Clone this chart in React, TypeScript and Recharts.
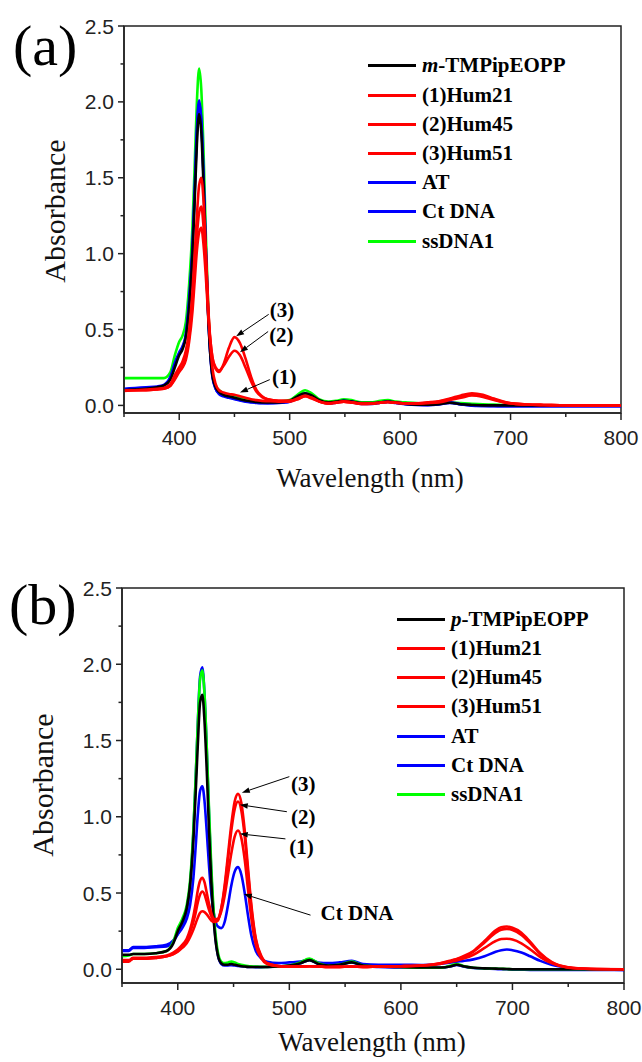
import React from 'react';
import { LineChart, Line, XAxis, YAxis, ReferenceArea, ReferenceLine, ReferenceDot } from 'recharts';

const SERIF = '"Liberation Serif", "Times New Roman", Times, "Nimbus Roman", "DejaVu Serif", serif';
const SANS = '"Liberation Sans", Arial, Helvetica, sans-serif';
const AXIS = '#222';

const X_TICKS = [350, 400, 450, 500, 550, 600, 650, 700, 750, 800];
const Y_TICKS = [0, 0.25, 0.5, 0.75, 1, 1.25, 1.5, 1.75, 2, 2.25, 2.5];

// ---------- panel (a): m-TMPipEOPP ----------
const A_WL = [
  350, 360, 370, 380, 386, 392, 396, 400,
  403, 406, 409, 412, 414, 416, 418, 420,
  422, 424, 426, 428, 430, 433, 436, 440,
  445, 450, 455, 460, 465, 470, 475, 480,
  490, 500, 507, 514, 520, 527, 535, 542,
  549, 556, 565, 575, 582, 589, 596, 605,
  615, 625, 635, 645, 655, 665, 675, 685,
  695, 705, 715, 730, 745, 760, 780, 800,
];
const A_FREE = [
  0.10, 0.105, 0.11, 0.12, 0.13, 0.17, 0.25, 0.33,
  0.37, 0.45, 0.65, 1.00, 1.35, 1.72, 1.92, 1.80,
  1.45, 1.00, 0.62, 0.35, 0.20, 0.12, 0.09, 0.07,
  0.06, 0.05, 0.04, 0.032, 0.027, 0.022, 0.02, 0.02,
  0.02, 0.03, 0.06, 0.08, 0.065, 0.035, 0.02, 0.025,
  0.03, 0.025, 0.015, 0.015, 0.02, 0.025, 0.02, 0.01,
  0.005, 0.004, 0.008, 0.018, 0.008, 0.003, 0, 0,
  0, 0, 0, 0, 0, 0, 0, 0,
];
const A_HUM21 = [
  0.10, 0.10, 0.105, 0.11, 0.115, 0.14, 0.20, 0.25,
  0.29, 0.36, 0.50, 0.75, 1.00, 1.25, 1.45, 1.50,
  1.35, 1.05, 0.70, 0.42, 0.25, 0.14, 0.10, 0.085,
  0.075, 0.07, 0.06, 0.05, 0.04, 0.035, 0.03, 0.028,
  0.025, 0.025, 0.04, 0.06, 0.05, 0.025, 0.015, 0.02,
  0.025, 0.02, 0.012, 0.012, 0.018, 0.022, 0.018, 0.012,
  0.012, 0.015, 0.02, 0.035, 0.05, 0.065, 0.055, 0.035,
  0.018, 0.01, 0.006, 0.003, 0.001, 0, 0, 0,
];
const A_HUM45 = [
  0.095, 0.10, 0.10, 0.105, 0.11, 0.13, 0.18, 0.23,
  0.26, 0.32, 0.45, 0.68, 0.90, 1.12, 1.27, 1.31,
  1.18, 0.95, 0.66, 0.45, 0.32, 0.25, 0.23, 0.26,
  0.32, 0.36, 0.33, 0.25, 0.16, 0.09, 0.055, 0.04,
  0.03, 0.03, 0.04, 0.06, 0.045, 0.025, 0.012, 0.018,
  0.025, 0.02, 0.01, 0.012, 0.018, 0.022, 0.018, 0.013,
  0.013, 0.018, 0.025, 0.04, 0.06, 0.072, 0.062, 0.04,
  0.02, 0.01, 0.006, 0.003, 0.001, 0, 0, 0,
];
const A_HUM51 = [
  0.10, 0.10, 0.10, 0.105, 0.11, 0.13, 0.17, 0.22,
  0.25, 0.30, 0.42, 0.62, 0.82, 1.02, 1.14, 1.17,
  1.06, 0.86, 0.62, 0.44, 0.32, 0.24, 0.22, 0.27,
  0.38, 0.45, 0.41, 0.31, 0.19, 0.10, 0.06, 0.04,
  0.03, 0.03, 0.045, 0.065, 0.05, 0.025, 0.012, 0.018,
  0.025, 0.02, 0.01, 0.012, 0.018, 0.022, 0.018, 0.013,
  0.014, 0.02, 0.028, 0.045, 0.066, 0.08, 0.07, 0.045,
  0.022, 0.01, 0.006, 0.003, 0.001, 0, 0, 0,
];
const A_AT = [
  0.11, 0.115, 0.12, 0.125, 0.135, 0.19, 0.28, 0.35,
  0.39, 0.47, 0.70, 1.05, 1.42, 1.82, 2.01, 1.88,
  1.52, 1.05, 0.65, 0.36, 0.20, 0.11, 0.08, 0.065,
  0.055, 0.045, 0.035, 0.028, 0.022, 0.018, 0.016, 0.015,
  0.018, 0.025, 0.055, 0.08, 0.06, 0.03, 0.015, 0.02,
  0.03, 0.025, 0.012, 0.012, 0.02, 0.025, 0.018, 0.01,
  0.005, 0.003, 0.008, 0.02, 0.008, 0, -0.003, -0.004,
  -0.005, -0.005, -0.005, -0.005, -0.005, -0.005, -0.005, -0.005,
];
const A_CTDNA = [
  0.105, 0.11, 0.115, 0.12, 0.13, 0.18, 0.27, 0.34,
  0.38, 0.46, 0.68, 1.03, 1.40, 1.80, 1.99, 1.87,
  1.50, 1.04, 0.64, 0.35, 0.19, 0.11, 0.075, 0.06,
  0.05, 0.04, 0.032, 0.025, 0.02, 0.016, 0.015, 0.014,
  0.016, 0.024, 0.052, 0.075, 0.058, 0.028, 0.014, 0.018,
  0.028, 0.022, 0.01, 0.01, 0.018, 0.022, 0.016, 0.008,
  0.003, 0.002, 0.006, 0.016, 0.006, -0.002, -0.004, -0.005,
  -0.006, -0.006, -0.006, -0.006, -0.006, -0.006, -0.006, -0.006,
];
const A_SSDNA = [
  0.18, 0.18, 0.18, 0.18, 0.18, 0.22, 0.33, 0.42,
  0.46, 0.55, 0.80, 1.18, 1.58, 2.00, 2.22, 2.08,
  1.68, 1.15, 0.70, 0.38, 0.22, 0.13, 0.10, 0.08,
  0.07, 0.065, 0.055, 0.045, 0.035, 0.03, 0.025, 0.025,
  0.025, 0.035, 0.07, 0.10, 0.08, 0.04, 0.025, 0.03,
  0.04, 0.035, 0.02, 0.02, 0.03, 0.035, 0.025, 0.02,
  0.015, 0.012, 0.015, 0.02, 0.015, 0.01, 0.008, 0.005,
  0.003, 0, 0, 0, 0, 0, 0, 0,
];

// ---------- panel (b): p-TMPipEOPP ----------
const B_WL = [
  350, 356, 360, 370, 380, 390, 396, 400,
  404, 408, 411, 414, 416, 418, 420, 422,
  424, 426, 428, 430, 433, 436, 439, 442,
  445, 448, 451, 454, 457, 460, 463, 466,
  470, 475, 480, 490, 500, 510, 518, 526,
  535, 545, 556, 566, 580, 600, 620, 635,
  645, 650, 656, 665, 675, 685, 690, 695,
  700, 708, 716, 725, 735, 750, 770, 800,
];
const B_FREE = [
  0.095, 0.095, 0.10, 0.10, 0.105, 0.12, 0.17, 0.25,
  0.31, 0.40, 0.55, 0.85, 1.15, 1.48, 1.75, 1.80,
  1.62, 1.30, 0.92, 0.58, 0.25, 0.09, 0.04, 0.03,
  0.03, 0.035, 0.03, 0.025, 0.02, 0.018, 0.016, 0.015,
  0.015, 0.015, 0.015, 0.018, 0.025, 0.04, 0.06, 0.035,
  0.025, 0.03, 0.045, 0.025, 0.018, 0.015, 0.012, 0.012,
  0.02, 0.03, 0.02, 0.01, 0.006, 0.004, 0.003, 0.002,
  0, 0, 0, 0, 0, 0, 0, 0,
];
const B_HUM21 = [
  0.06, 0.06, 0.075, 0.075, 0.08, 0.09, 0.11, 0.13,
  0.16, 0.20, 0.26, 0.35, 0.43, 0.52, 0.58, 0.60,
  0.57, 0.50, 0.43, 0.37, 0.33, 0.33, 0.38, 0.48,
  0.62, 0.76, 0.87, 0.91, 0.86, 0.72, 0.52, 0.33,
  0.16, 0.07, 0.035, 0.02, 0.018, 0.018, 0.02, 0.018,
  0.015, 0.016, 0.018, 0.016, 0.018, 0.02, 0.025, 0.035,
  0.05, 0.058, 0.07, 0.095, 0.14, 0.185, 0.198, 0.20,
  0.195, 0.17, 0.13, 0.08, 0.04, 0.01, 0.002, 0,
];
const B_HUM45 = [
  0.05, 0.05, 0.07, 0.07, 0.075, 0.085, 0.10, 0.12,
  0.15, 0.19, 0.24, 0.31, 0.37, 0.44, 0.49, 0.51,
  0.49, 0.44, 0.39, 0.35, 0.32, 0.33, 0.40, 0.53,
  0.72, 0.91, 1.05, 1.10, 1.04, 0.87, 0.63, 0.40,
  0.19, 0.08, 0.04, 0.022, 0.018, 0.018, 0.02, 0.018,
  0.015, 0.016, 0.018, 0.016, 0.018, 0.02, 0.025, 0.038,
  0.055, 0.065, 0.08, 0.115, 0.175, 0.24, 0.26, 0.265,
  0.258, 0.225, 0.17, 0.10, 0.045, 0.012, 0.002, 0,
];
const B_HUM51 = [
  0.055, 0.055, 0.07, 0.07, 0.075, 0.085, 0.10, 0.115,
  0.14, 0.17, 0.21, 0.26, 0.30, 0.34, 0.37, 0.38,
  0.375, 0.36, 0.34, 0.32, 0.31, 0.32, 0.40, 0.55,
  0.75, 0.95, 1.10, 1.15, 1.09, 0.91, 0.66, 0.42,
  0.20, 0.085, 0.04, 0.022, 0.018, 0.018, 0.02, 0.018,
  0.015, 0.016, 0.018, 0.016, 0.018, 0.02, 0.026, 0.04,
  0.058, 0.068, 0.085, 0.12, 0.185, 0.255, 0.275, 0.28,
  0.272, 0.24, 0.18, 0.105, 0.048, 0.013, 0.003, 0,
];
const B_AT = [
  0.12, 0.12, 0.14, 0.14, 0.145, 0.15, 0.18, 0.23,
  0.29, 0.38, 0.55, 0.90, 1.24, 1.62, 1.92, 1.98,
  1.80, 1.44, 1.02, 0.64, 0.27, 0.09, 0.035, 0.025,
  0.025, 0.027, 0.025, 0.022, 0.02, 0.018, 0.016, 0.015,
  0.014, 0.014, 0.015, 0.018, 0.025, 0.04, 0.06, 0.035,
  0.025, 0.03, 0.045, 0.022, 0.015, 0.012, 0.01, 0.01,
  0.02, 0.028, 0.018, 0.008, 0.004, 0.002, 0, 0,
  -0.002, -0.003, -0.004, -0.004, -0.004, -0.004, -0.004, -0.004,
];
const B_CTDNA = [
  0.125, 0.125, 0.145, 0.145, 0.15, 0.16, 0.19, 0.23,
  0.27, 0.33, 0.42, 0.60, 0.80, 1.02, 1.17, 1.20,
  1.10, 0.90, 0.68, 0.50, 0.34, 0.28, 0.27, 0.31,
  0.42, 0.55, 0.64, 0.67, 0.62, 0.50, 0.35, 0.22,
  0.12, 0.07, 0.05, 0.04, 0.045, 0.05, 0.065, 0.045,
  0.04, 0.045, 0.055, 0.035, 0.03, 0.03, 0.028, 0.035,
  0.045, 0.05, 0.055, 0.065, 0.085, 0.115, 0.125, 0.13,
  0.125, 0.11, 0.085, 0.055, 0.03, 0.01, 0, -0.004,
];
const B_SSDNA = [
  0.085, 0.09, 0.10, 0.10, 0.105, 0.12, 0.18, 0.27,
  0.33, 0.42, 0.58, 0.92, 1.25, 1.62, 1.90, 1.96,
  1.80, 1.45, 1.05, 0.68, 0.30, 0.11, 0.05, 0.04,
  0.045, 0.05, 0.045, 0.035, 0.03, 0.025, 0.022, 0.02,
  0.018, 0.016, 0.016, 0.018, 0.025, 0.045, 0.07, 0.04,
  0.025, 0.03, 0.05, 0.025, 0.018, 0.015, 0.01, 0.01,
  0.025, 0.035, 0.022, 0.01, 0.006, 0.004, 0.003, 0.002,
  0, 0, 0, 0, 0, 0, 0, 0,
];

// annotations: label, text position, arrow start, arrow tip (data units)
const A_NOTES = [
  { text: '(3)', tx: 493, ty: 0.63, x1: 481, y1: 0.60, x2: 451.5, y2: 0.455 },
  { text: '(2)', tx: 492.5, ty: 0.467, x1: 480.5, y1: 0.487, x2: 455, y2: 0.35 },
  { text: '(1)', tx: 495, ty: 0.19, x1: 482, y1: 0.17, x2: 455, y2: 0.085 },
];
const B_NOTES = [
  { text: '(3)', tx: 512.5, ty: 1.217, x1: 500, y1: 1.263, x2: 457.4, y2: 1.158 },
  { text: '(2)', tx: 512.5, ty: 1.0, x1: 497.8, y1: 1.033, x2: 455.6, y2: 1.079 },
  { text: '(1)', tx: 511, ty: 0.80, x1: 496.5, y1: 0.855, x2: 455.6, y2: 0.888 },
  { text: 'Ct DNA', tx: 528, ty: 0.368, x1: 519, y1: 0.355, x2: 459.2, y2: 0.493, anchor: 'start' },
];

type Series = { key: string; pre?: string; name: string; color: string; values: number[] };

const A_SERIES: Series[] = [
  { key: 'free', pre: 'm', name: '-TMPipEOPP', color: '#000000', values: A_FREE },
  { key: 'hum21', name: '(1)Hum21', color: '#ff0000', values: A_HUM21 },
  { key: 'hum45', name: '(2)Hum45', color: '#ff0000', values: A_HUM45 },
  { key: 'hum51', name: '(3)Hum51', color: '#ff0000', values: A_HUM51 },
  { key: 'at', name: 'AT', color: '#0000ff', values: A_AT },
  { key: 'ct', name: 'Ct DNA', color: '#0000ff', values: A_CTDNA },
  { key: 'ss', name: 'ssDNA1', color: '#00ff00', values: A_SSDNA },
];
const B_SERIES: Series[] = [
  { key: 'free', pre: 'p', name: '-TMPipEOPP', color: '#000000', values: B_FREE },
  { key: 'hum21', name: '(1)Hum21', color: '#ff0000', values: B_HUM21 },
  { key: 'hum45', name: '(2)Hum45', color: '#ff0000', values: B_HUM45 },
  { key: 'hum51', name: '(3)Hum51', color: '#ff0000', values: B_HUM51 },
  { key: 'at', name: 'AT', color: '#0000ff', values: B_AT },
  { key: 'ct', name: 'Ct DNA', color: '#0000ff', values: B_CTDNA },
  { key: 'ss', name: 'ssDNA1', color: '#00ff00', values: B_SSDNA },
];

const buildRows = (wl: number[], series: Series[]) =>
  wl.map((w, i) => {
    const row: Record<string, number> = { wl: w };
    series.forEach(s => { row[s.key] = s.values[i]; });
    return row;
  });

const YTick = (props: any) => {
  const { x, y, payload } = props;
  const v = payload.value;
  const major = Math.abs(v * 2 - Math.round(v * 2)) < 1e-6;
  return (
    <g>
      <line x1={x} x2={x - (major ? 6 : 3.5)} y1={y} y2={y} stroke={AXIS} strokeWidth={1.5} />
      {major && (
        <text x={x - 10} y={y + 7.5} textAnchor="end" fontFamily={SANS} fontSize={21} fill={AXIS}>
          {v.toFixed(1)}
        </text>
      )}
    </g>
  );
};

const XTick = (props: any) => {
  const { x, y, payload } = props;
  const major = payload.value % 100 === 0;
  return (
    <g>
      <line x1={x} x2={x} y1={y} y2={y + (major ? 7 : 4)} stroke={AXIS} strokeWidth={1.5} />
      {major && (
        <text x={x} y={y + 32} textAnchor="middle" fontFamily={SANS} fontSize={21} fill={AXIS}>
          {payload.value}
        </text>
      )}
    </g>
  );
};

const Arrow = (props: any) => {
  const { x1, y1, x2, y2 } = props;
  const a = Math.atan2(y2 - y1, x2 - x1);
  const c = Math.cos(a), s = Math.sin(a);
  const bx = x2 - 8 * c, by = y2 - 8 * s;
  const pts = `${x2},${y2} ${bx + 2.8 * s},${by - 2.8 * c} ${bx - 2.8 * s},${by + 2.8 * c}`;
  return (
    <g>
      <line x1={x1} y1={y1} x2={bx} y2={by} stroke="#000" strokeWidth={1} />
      <polygon points={pts} fill="#000" />
    </g>
  );
};

type PanelProps = {
  top: number;
  height: number;
  margin: { top: number; right: number; left: number; bottom: number };
  yMin: number;
  wl: number[];
  series: Series[];
  drawOrder: string[];
  notes: any[];
  tag: string;
  tagPos: { left: number; top: number };
  legendPos: { left: number; top: number };
  yTitle: { dx: number; cy: number };
  xTitle: { cx: number; dy: number };
};

function Panel(p: PanelProps) {
  const data = buildRows(p.wl, p.series);
  const byKey: Record<string, Series> = {};
  p.series.forEach(s => { byKey[s.key] = s; });

  return (
    <div style={{ position: 'absolute', left: 0, top: p.top, width: 642, height: p.height }}>
      <LineChart width={642} height={p.height} data={data} margin={p.margin}>
        <XAxis
          dataKey="wl"
          type="number"
          domain={[350, 800]}
          ticks={X_TICKS}
          allowDataOverflow
          height={30}
          tickSize={0}
          tickMargin={0}
          tickLine={false}
          axisLine={{ stroke: AXIS, strokeWidth: 1.5 }}
          tick={<XTick />}
          label={(lp: any) => {
            const vb = lp.viewBox;
            return (
              <text x={p.xTitle.cx} y={vb.y + p.xTitle.dy} textAnchor="middle" fontFamily={SERIF} fontSize={27} fill="#111">
                Wavelength (nm)
              </text>
            );
          }}
        />
        <YAxis
          type="number"
          domain={[p.yMin, 2.5]}
          ticks={Y_TICKS}
          allowDataOverflow
          width={60}
          tickSize={0}
          tickMargin={0}
          tickLine={false}
          axisLine={{ stroke: AXIS, strokeWidth: 1.5 }}
          tick={<YTick />}
          label={(lp: any) => {
            const vb = lp.viewBox;
            const bx = vb.x + vb.width - p.yTitle.dx;
            return (
              <text
                x={bx}
                y={p.yTitle.cy}
                transform={`rotate(-90, ${bx}, ${p.yTitle.cy})`}
                textAnchor="middle"
                fontFamily={SERIF}
                fontSize={30}
                fill="#111"
              >
                Absorbance
              </text>
            );
          }}
        />
        <ReferenceArea x1={350} x2={800} y1={p.yMin} y2={2.5} fill="none" stroke={AXIS} strokeWidth={1.5} ifOverflow="visible" />
        {p.drawOrder.map(k => (
          <Line
            key={k}
            type="monotone"
            dataKey={k}
            stroke={byKey[k].color}
            strokeWidth={2.6}
            dot={false}
            activeDot={false}
            isAnimationActive={false}
          />
        ))}
        {p.notes.map((n, i) => (
          <ReferenceLine
            key={`arrow-${i}`}
            segment={[{ x: n.x1, y: n.y1 }, { x: n.x2, y: n.y2 }]}
            ifOverflow="visible"
            shape={<Arrow />}
          />
        ))}
        {p.notes.map((n, i) => (
          <ReferenceDot
            key={`note-${i}`}
            x={n.tx}
            y={n.ty}
            r={0}
            ifOverflow="visible"
            shape={(dp: any) => (
              <text
                x={dp.cx}
                y={dp.cy + 7}
                textAnchor={n.anchor || 'middle'}
                fontFamily={SERIF}
                fontWeight="bold"
                fontSize={21}
                fill="#000"
              >
                {n.text}
              </text>
            )}
          />
        ))}
      </LineChart>

      <div
        style={{
          position: 'absolute',
          left: p.tagPos.left,
          top: p.tagPos.top,
          fontFamily: SERIF,
          fontSize: 58,
          lineHeight: '58px',
          color: '#000',
        }}
      >
        {p.tag}
      </div>

      <div style={{ position: 'absolute', left: p.legendPos.left, top: p.legendPos.top }}>
        {p.series.map(s => (
          <div key={s.key} style={{ display: 'flex', alignItems: 'center', height: 29.2 }}>
            <div style={{ width: 48, height: 3, background: s.color, marginRight: 6 }} />
            <div style={{ fontFamily: SERIF, fontWeight: 'bold', fontSize: 21, lineHeight: '29px', color: '#000', whiteSpace: 'nowrap' }}>
              {s.pre && <i>{s.pre}</i>}
              {s.name}
            </div>
          </div>
        ))}
      </div>
    </div>
  );
}

export default function App() {
  return (
    <div style={{ position: 'absolute', left: 0, top: 0, width: 642, height: 1062, background: '#fff' }}>
      <Panel
        top={0}
        height={520}
        margin={{ top: 26, right: 21, left: 64, bottom: 77 }}
        yMin={-0.05}
        wl={A_WL}
        series={A_SERIES}
        drawOrder={['ss', 'ct', 'at', 'free', 'hum21', 'hum45', 'hum51']}
        notes={A_NOTES}
        tag="(a)"
        tagPos={{ left: 13, top: 17 }}
        legendPos={{ left: 368, top: 51.4 }}
        yTitle={{ dx: 59, cy: 211 }}
        xTitle={{ cx: 370, dy: 74 }}
      />
      <Panel
        top={540}
        height={522}
        margin={{ top: 48, right: 18, left: 62, bottom: 49 }}
        yMin={-0.09}
        wl={B_WL}
        series={B_SERIES}
        drawOrder={['ct', 'at', 'ss', 'free', 'hum21', 'hum45', 'hum51']}
        notes={B_NOTES}
        tag="(b)"
        tagPos={{ left: 9, top: 36 }}
        legendPos={{ left: 397, top: 64.7 }}
        yTitle={{ dx: 69, cy: 245 }}
        xTitle={{ cx: 372, dy: 68 }}
      />
    </div>
  );
}
